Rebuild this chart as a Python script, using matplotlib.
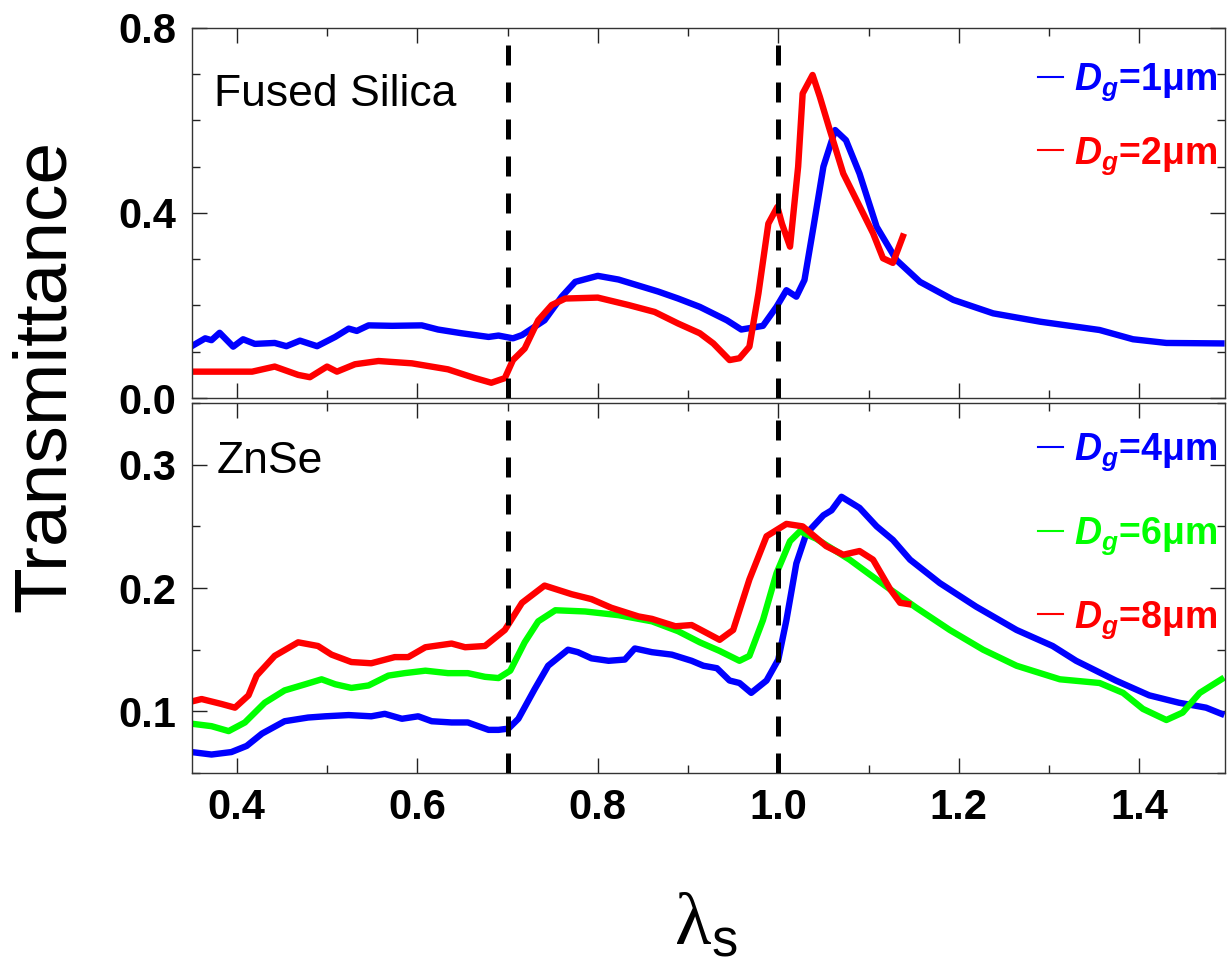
import numpy as np
import matplotlib
matplotlib.use("Agg")
import matplotlib.pyplot as plt
from matplotlib.ticker import MultipleLocator, FormatStrFormatter

plt.rcParams["font.family"] = ["Liberation Sans", "DejaVu Sans"]
plt.rcParams["mathtext.fontset"] = "custom"
plt.rcParams["mathtext.rm"] = "Liberation Serif"
plt.rcParams["mathtext.sf"] = "Liberation Sans"
plt.rcParams["mathtext.bf"] = "Liberation Sans:bold"
plt.rcParams["mathtext.bfit"] = "Liberation Sans:italic:bold"

# ---- fused silica ----
fs1_x = [0.350, 0.365, 0.372, 0.381, 0.396, 0.407, 0.420, 0.442, 0.455, 0.470, 0.489, 0.509,
         0.524, 0.533, 0.546, 0.572, 0.605, 0.623, 0.649, 0.679, 0.690, 0.706, 0.716, 0.741,
         0.760, 0.775, 0.800, 0.823, 0.867, 0.889, 0.913, 0.943, 0.959, 0.983, 0.998, 1.009,
         1.020, 1.029, 1.039, 1.050, 1.063, 1.075, 1.090, 1.109, 1.131, 1.157, 1.194, 1.238,
         1.290, 1.356, 1.393, 1.430, 1.491]
fs1_t = [0.112, 0.129, 0.125, 0.141, 0.111, 0.127, 0.117, 0.119, 0.112, 0.124, 0.112, 0.132,
         0.150, 0.145, 0.157, 0.156, 0.157, 0.148, 0.140, 0.132, 0.135, 0.129, 0.136, 0.168,
         0.219, 0.251, 0.264, 0.256, 0.230, 0.215, 0.197, 0.168, 0.148, 0.156, 0.197, 0.233,
         0.219, 0.255, 0.370, 0.500, 0.579, 0.557, 0.485, 0.370, 0.298, 0.251, 0.212, 0.183,
         0.165, 0.147, 0.127, 0.119, 0.118]

fs2_x = [0.350, 0.417, 0.442, 0.468, 0.481, 0.500, 0.511, 0.531, 0.557, 0.594, 0.634, 0.664,
         0.682, 0.697, 0.706, 0.719, 0.734, 0.749, 0.764, 0.800, 0.834, 0.863, 0.889, 0.913,
         0.928, 0.946, 0.957, 0.968, 0.978, 0.989, 0.999, 1.004, 1.013, 1.022, 1.027, 1.038,
         1.046, 1.056, 1.072, 1.083, 1.105, 1.116, 1.127, 1.138]
fs2_t = [0.057, 0.057, 0.068, 0.050, 0.045, 0.068, 0.057, 0.073, 0.080, 0.075, 0.062, 0.043,
         0.033, 0.043, 0.082, 0.107, 0.168, 0.201, 0.215, 0.217, 0.201, 0.186, 0.161, 0.140,
         0.118, 0.082, 0.086, 0.111, 0.226, 0.377, 0.413, 0.377, 0.327, 0.500, 0.658, 0.698,
         0.651, 0.586, 0.485, 0.442, 0.356, 0.302, 0.292, 0.349]

# ---- ZnSe ----
zn4_x = [0.350, 0.372, 0.394, 0.411, 0.428, 0.453, 0.479, 0.498, 0.524, 0.549, 0.564, 0.583,
         0.601, 0.616, 0.638, 0.656, 0.679, 0.690, 0.701, 0.712, 0.730, 0.745, 0.767, 0.778,
         0.793, 0.812, 0.830, 0.841, 0.860, 0.882, 0.904, 0.917, 0.932, 0.946, 0.957, 0.970,
         0.987, 1.000, 1.009, 1.020, 1.031, 1.050, 1.059, 1.070, 1.090, 1.109, 1.127, 1.146,
         1.179, 1.219, 1.264, 1.304, 1.330, 1.374, 1.411, 1.444, 1.474, 1.491]
zn4_t = [0.067, 0.065, 0.067, 0.072, 0.082, 0.092, 0.095, 0.096, 0.097, 0.096, 0.098, 0.094,
         0.096, 0.092, 0.091, 0.091, 0.085, 0.085, 0.086, 0.094, 0.118, 0.137, 0.150, 0.148,
         0.143, 0.141, 0.142, 0.151, 0.148, 0.146, 0.141, 0.137, 0.135, 0.125, 0.123, 0.115,
         0.125, 0.142, 0.174, 0.220, 0.244, 0.259, 0.263, 0.274, 0.265, 0.250, 0.239, 0.223,
         0.204, 0.185, 0.166, 0.153, 0.141, 0.125, 0.113, 0.107, 0.103, 0.098]

zn6_x = [0.350, 0.372, 0.391, 0.409, 0.431, 0.453, 0.476, 0.494, 0.509, 0.527, 0.546, 0.568,
         0.586, 0.609, 0.634, 0.656, 0.675, 0.690, 0.703, 0.719, 0.734, 0.753, 0.786, 0.823,
         0.860, 0.889, 0.913, 0.935, 0.957, 0.968, 0.983, 0.998, 1.013, 1.024, 1.042, 1.079,
         1.120, 1.153, 1.190, 1.227, 1.264, 1.312, 1.356, 1.382, 1.404, 1.430, 1.448, 1.467,
         1.491]
zn6_t = [0.090, 0.088, 0.084, 0.091, 0.107, 0.117, 0.122, 0.126, 0.122, 0.119, 0.121, 0.129,
         0.131, 0.133, 0.131, 0.131, 0.128, 0.127, 0.133, 0.156, 0.173, 0.182, 0.181, 0.178,
         0.173, 0.165, 0.156, 0.149, 0.141, 0.145, 0.174, 0.212, 0.238, 0.246, 0.240, 0.223,
         0.201, 0.184, 0.166, 0.150, 0.137, 0.126, 0.123, 0.115, 0.102, 0.093, 0.099, 0.115,
         0.126]

zn8_x = [0.350, 0.361, 0.383, 0.398, 0.413, 0.422, 0.442, 0.468, 0.490, 0.505, 0.527, 0.549,
         0.575, 0.590, 0.609, 0.638, 0.653, 0.675, 0.697, 0.716, 0.741, 0.771, 0.793, 0.815,
         0.845, 0.860, 0.886, 0.904, 0.917, 0.935, 0.950, 0.968, 0.987, 1.009, 1.027, 1.053,
         1.072, 1.090, 1.105, 1.124, 1.135, 1.144]
zn8_t = [0.108, 0.110, 0.106, 0.103, 0.113, 0.129, 0.145, 0.156, 0.153, 0.146, 0.140, 0.139,
         0.144, 0.144, 0.152, 0.155, 0.152, 0.153, 0.166, 0.188, 0.202, 0.195, 0.191, 0.184,
         0.177, 0.175, 0.169, 0.170, 0.165, 0.158, 0.166, 0.207, 0.242, 0.252, 0.250, 0.234,
         0.227, 0.230, 0.223, 0.199, 0.188, 0.187]

edges = [0.7, 1.0]

fig = plt.figure(figsize=(12.27, 9.64), dpi=100)
ax_top = fig.add_axes([0.1562, 0.5871, 0.8422, 0.3841])
ax_bot = fig.add_axes([0.1562, 0.1981, 0.8422, 0.3838])

LW = 4.6
ax_top.plot(fs1_x, fs1_t, color="#0000ff", lw=LW, label=r"$\mathbfit{D}_{\mathbfit{g}}$=1μm")
ax_top.plot(fs2_x, fs2_t, color="#ff0000", lw=LW, label=r"$\mathbfit{D}_{\mathbfit{g}}$=2μm")

ax_bot.plot(zn4_x, zn4_t, color="#0000ff", lw=LW, label=r"$\mathbfit{D}_{\mathbfit{g}}$=4μm")
ax_bot.plot(zn6_x, zn6_t, color="#00ff00", lw=LW, label=r"$\mathbfit{D}_{\mathbfit{g}}$=6μm")
ax_bot.plot(zn8_x, zn8_t, color="#ff0000", lw=LW, label=r"$\mathbfit{D}_{\mathbfit{g}}$=8μm")

for ax in (ax_top, ax_bot):
    for xv in edges:
        ax.axvline(xv, color="black", lw=3.6, linestyle=(0, (4, 3.4)), zorder=5)
    ax.set_xlim(0.35, 1.495)
    ax.xaxis.set_major_locator(MultipleLocator(0.2))
    ax.xaxis.set_minor_locator(MultipleLocator(0.1))
    ax.xaxis.set_major_formatter(FormatStrFormatter("%.1f"))
    ax.yaxis.set_major_formatter(FormatStrFormatter("%.1f"))
    ax.tick_params(which="both", direction="in", top=True, right=True, width=1.0, color="#222222")
    ax.tick_params(which="major", length=11, labelsize=30, pad=11)
    ax.tick_params(which="minor", length=5.5)
    for sp in ax.spines.values():
        sp.set_linewidth(1.0)
        sp.set_color("#333333")

ax_top.set_ylim(0.0, 0.8)
ax_top.yaxis.set_major_locator(MultipleLocator(0.4))
ax_top.yaxis.set_minor_locator(MultipleLocator(0.1))
ax_top.tick_params(labelbottom=False)

ax_bot.set_ylim(0.05, 0.35)
ax_bot.yaxis.set_major_locator(MultipleLocator(0.1))
ax_bot.yaxis.set_minor_locator(MultipleLocator(0.05))
for lab in ax_bot.get_xticklabels() + ax_bot.get_yticklabels() + ax_top.get_yticklabels():
    lab.set_fontweight("bold")

ax_top.text(0.022, 0.789, "Fused Silica", transform=ax_top.transAxes, fontsize=32, va="baseline")
ax_bot.text(0.024, 0.811, "ZnSe", transform=ax_bot.transAxes, fontsize=32, va="baseline")

leg_font = {"family": "Liberation Sans", "weight": "bold", "size": 27}
leg1 = ax_top.legend(loc="upper right", frameon=False, prop=leg_font, labelcolor="linecolor",
                     handlelength=0.65, handletextpad=0.3, labelspacing=0.85,
                     borderaxespad=0, bbox_to_anchor=(1.007, 0.949))
leg2 = ax_bot.legend(loc="upper right", frameon=False, prop=leg_font, labelcolor="linecolor",
                     handlelength=0.65, handletextpad=0.3, labelspacing=1.12,
                     borderaxespad=0, bbox_to_anchor=(1.007, 0.963))
for leg in (leg1, leg2):
    for ln in leg.get_lines():
        ln.set_linewidth(1.5)

fig.text(0.037, 1 - 376 / 964, "Transmittance", rotation=90, ha="center", va="center", fontsize=54)
fig.text(0.575, 1 - 925 / 964, r"$\mathrm{\lambda}_{\mathsf{s}}$", ha="center", va="center", fontsize=54)

fig.savefig("out.png", dpi=100)
